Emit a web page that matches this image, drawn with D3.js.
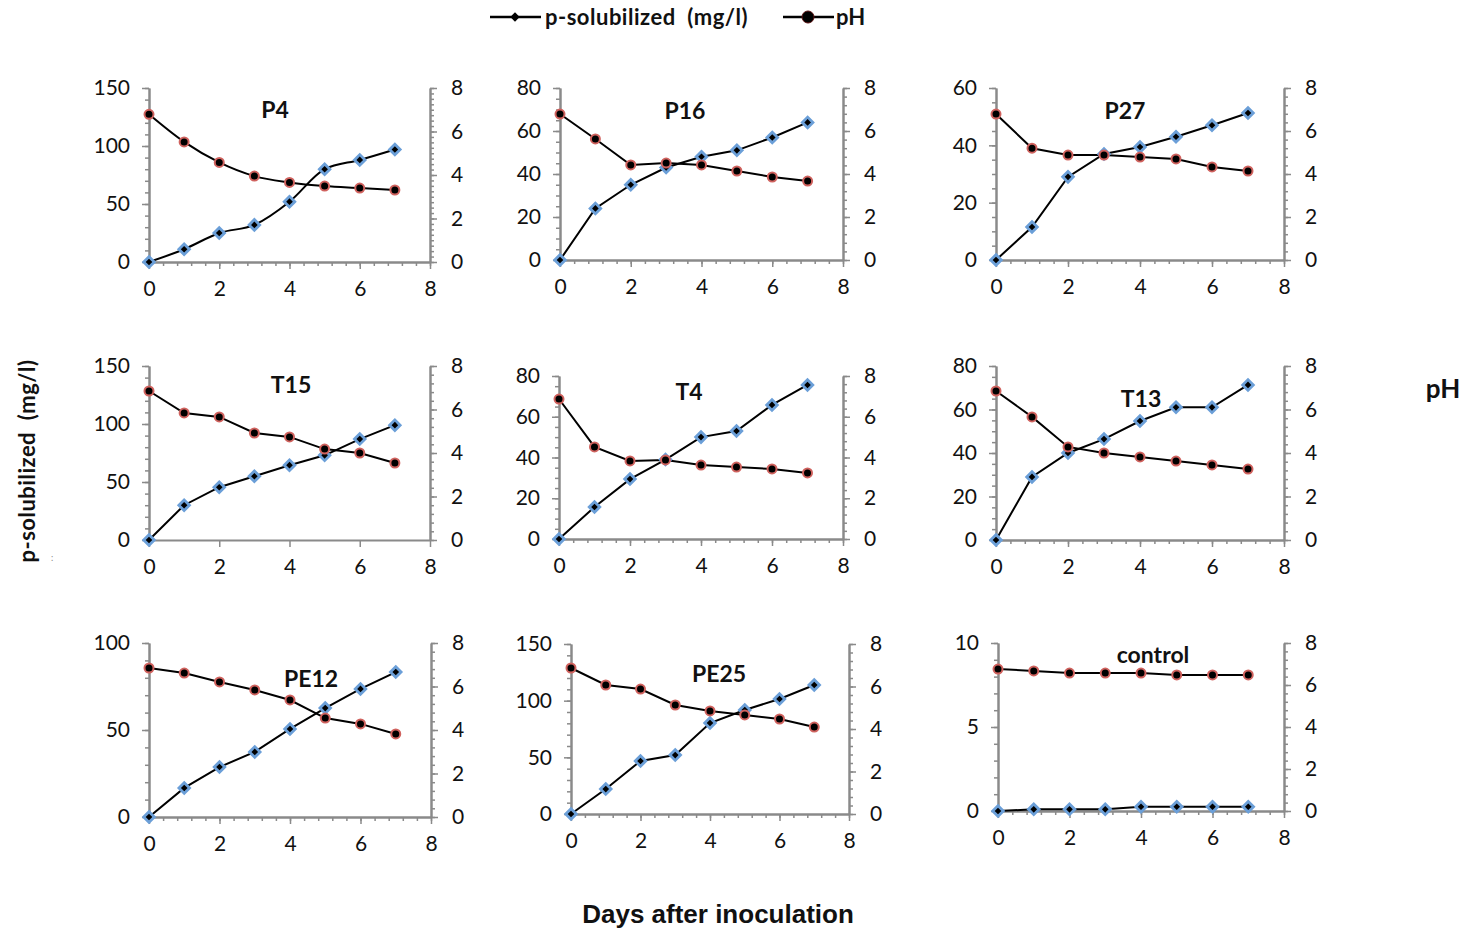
<!DOCTYPE html>
<html>
<head>
<meta charset="utf-8">
<script src="https://cdn.jsdelivr.net/npm/d3@7.9.0/dist/d3.min.js"></script>
<style>
  body { margin: 0; background: #fff; }
  svg text { font-family: Lato, "Noto Sans", sans-serif; fill: #111; }
</style>
</head>
<body>
<svg id="chart"></svg>
<script>
// data
const days = [0, 1, 2, 3, 4, 5, 6, 7];
const panelNames = ["P4", "P16", "P27", "T15", "T4", "T13", "PE12", "PE25", "control"];

const psolP4 = [0, 11, 25, 32, 52, 80, 88, 97];
const psolP16 = [0, 24, 35, 43, 48, 51, 57, 64];
const psolP27 = [0, 11.5, 29, 37, 39.4, 43, 47, 51.3];
const psolT15 = [0, 30, 45.5, 55, 64.5, 73, 87, 99];
const psolT4 = [0, 15.7, 29.4, 39, 50, 53, 65.8, 75.6];
const psolT13 = [0, 29, 40, 46.4, 54.7, 61, 61, 71.3];
const psolPE12 = [0, 16.7, 28.7, 37.4, 50.6, 62.6, 73.6, 83.3];
const psolPE25 = [0, 22, 46.8, 52, 80.3, 91.8, 101.5, 113.8];
const psolControl = [0, 0.1, 0.1, 0.1, 0.25, 0.25, 0.25, 0.25];

const phP4 = [6.79, 5.52, 4.58, 3.95, 3.66, 3.49, 3.40, 3.31];
const phP16 = [6.79, 5.63, 4.42, 4.51, 4.42, 4.14, 3.86, 3.67];
const phP27 = [6.79, 5.2, 4.88, 4.88, 4.79, 4.7, 4.33, 4.14];
const phT15 = [6.85, 5.84, 5.66, 4.92, 4.74, 4.18, 4.0, 3.54];
const phT4 = [6.87, 4.52, 3.83, 3.88, 3.63, 3.53, 3.44, 3.24];
const phT13 = [6.85, 5.66, 4.28, 4.0, 3.82, 3.63, 3.45, 3.26];
const phPE12 = [6.85, 6.62, 6.21, 5.84, 5.38, 4.55, 4.28, 3.82];
const phPE25 = [6.87, 6.07, 5.88, 5.13, 4.85, 4.66, 4.47, 4.09];
const phControl = [6.76, 6.67, 6.57, 6.57, 6.57, 6.48, 6.48, 6.48];

const psolSeries = [psolP4, psolP16, psolP27, psolT15, psolT4, psolT13, psolPE12, psolPE25, psolControl];
const phSeries = [phP4, phP16, phP27, phT15, phT4, phT13, phPE12, phPE25, phControl];

const psolMax = [150, 80, 60, 150, 80, 80, 100, 150, 10];
const psolStep = [50, 20, 20, 50, 20, 20, 50, 50, 5];
const psolMinor = [10, 5, 5, 10, 5, 5, 10, 10, 1];
const phMax = 8, phStep = 2;
const dayMax = 8, dayStep = 2;

// layout of each plot frame (left, right, top, bottom) and title offset
const frames = [
  { l: 149, r: 430, t: 88, b: 262, tx: 126, ty: 22, smooth: true },
  { l: 560, r: 843, t: 88, b: 260, tx: 125, ty: 23 },
  { l: 996, r: 1284, t: 88, b: 260, tx: 129, ty: 23 },
  { l: 149, r: 430, t: 366, b: 540, tx: 142, ty: 19, noMinorX: true },
  { l: 559, r: 843, t: 376, b: 539, tx: 130, ty: 16 },
  { l: 996, r: 1284, t: 366, b: 540, tx: 145, ty: 33 },
  { l: 149, r: 431, t: 643, b: 817, tx: 162, ty: 36 },
  { l: 571, r: 849, t: 644, b: 814, tx: 148, ty: 30 },
  { l: 998, r: 1284, t: 643, b: 811, tx: 155, ty: 12 }
];

const W = 1472, H = 931;
const axisColor = "#8a8a8a";
const svg = d3.select("#chart").attr("width", W).attr("height", H);

function styleAxis(sel) {
  sel.select(".domain").attr("stroke", axisColor).attr("stroke-width", 2);
  sel.selectAll(".tick line").attr("stroke", axisColor).attr("stroke-width", 1.5);
  sel.selectAll(".tick text").attr("font-size", 21).attr("fill", "#111")
    .style("font-family", "Lato, sans-serif");
}

function drawPanel(i) {
  const f = frames[i];
  const w = f.r - f.l, h = f.b - f.t;
  const g = svg.append("g").attr("transform", `translate(${f.l},${f.t})`);

  const x = d3.scaleLinear().domain([0, dayMax]).range([0, w]);
  const y = d3.scaleLinear().domain([0, psolMax[i]]).range([h, 0]);
  const y2 = d3.scaleLinear().domain([0, phMax]).range([h, 0]);

  // minor ticks
  if (!f.noMinorX) {
    g.append("g").attr("transform", `translate(0,${h})`)
      .call(d3.axisBottom(x).tickValues(d3.range(0, dayMax + 0.01, 0.4)).tickSize(4).tickSizeOuter(0).tickFormat(""))
      .call(styleAxis);
  }
  g.append("g")
    .call(d3.axisLeft(y).tickValues(d3.range(0, psolMax[i] + 0.01, psolMinor[i])).tickSize(4).tickSizeOuter(0).tickFormat(""))
    .call(styleAxis);
  g.append("g").attr("transform", `translate(${w},0)`)
    .call(d3.axisRight(y2).tickValues(d3.range(0, phMax + 0.01, i === 0 ? 0.25 : 0.4)).tickSize(4).tickSizeOuter(0).tickFormat(""))
    .call(styleAxis);

  // major ticks and labels
  g.append("g").attr("transform", `translate(0,${h})`)
    .call(d3.axisBottom(x).tickValues(d3.range(0, dayMax + 0.01, dayStep)).tickSize(7).tickSizeOuter(0).tickPadding(12))
    .call(styleAxis);
  g.append("g")
    .call(d3.axisLeft(y).tickValues(d3.range(0, psolMax[i] + 0.01, psolStep[i])).tickSize(7).tickSizeOuter(0).tickPadding(12))
    .call(styleAxis);
  g.append("g").attr("transform", `translate(${w},0)`)
    .call(d3.axisRight(y2).tickValues(d3.range(0, phMax + 0.01, phStep)).tickSize(7).tickSizeOuter(0).tickPadding(14))
    .call(styleAxis);

  const curve = f.smooth ? d3.curveMonotoneX : d3.curveLinear;
  const psolLine = d3.line().x((d, k) => x(days[k])).y(d => y(d)).curve(curve);
  const phLine = d3.line().x((d, k) => x(days[k])).y(d => y2(d)).curve(curve);

  g.append("path").datum(psolSeries[i])
    .attr("fill", "none").attr("stroke", "#000").attr("stroke-width", 2).attr("d", psolLine);
  g.append("path").datum(phSeries[i])
    .attr("fill", "none").attr("stroke", "#000").attr("stroke-width", 2).attr("d", phLine);

  const diamond = d3.symbol(d3.symbolSquare, 56);
  g.selectAll(".psol").data(psolSeries[i]).join("path")
    .attr("class", "psol")
    .attr("d", diamond)
    .attr("transform", (d, k) => `translate(${x(days[k])},${y(d)}) rotate(45)`)
    .attr("fill", "#000").attr("stroke", "#6b9fd8").attr("stroke-width", 2.8);

  g.selectAll(".ph").data(phSeries[i]).join("circle")
    .attr("class", "ph")
    .attr("cx", (d, k) => x(days[k])).attr("cy", d => y2(d)).attr("r", 4.5)
    .attr("fill", "#000").attr("stroke", "#d0625e").attr("stroke-width", 2);

  g.append("text")
    .attr("x", f.tx).attr("y", f.ty).attr("dy", "0.35em")
    .attr("text-anchor", "middle").attr("font-size", 23).attr("font-weight", "bold")
    .text(panelNames[i]);
}

panelNames.forEach((n, i) => drawPanel(i));

// legend
const lg = svg.append("g");
lg.append("line").attr("x1", 490).attr("x2", 541).attr("y1", 17).attr("y2", 17)
  .attr("stroke", "#000").attr("stroke-width", 2.5);
lg.append("path").attr("d", d3.symbol(d3.symbolSquare, 44))
  .attr("transform", "translate(515,17) rotate(45)").attr("fill", "#000");
lg.append("text").attr("x", 545).attr("y", 17).attr("dy", "0.35em")
  .attr("font-size", 22).attr("font-weight", "bold").attr("letter-spacing", 0.5)
  .attr("xml:space", "preserve")
  .text("p-solubilized  (mg/l)");
lg.append("line").attr("x1", 783).attr("x2", 834).attr("y1", 17).attr("y2", 17)
  .attr("stroke", "#000").attr("stroke-width", 2.5);
lg.append("circle").attr("cx", 808).attr("cy", 17).attr("r", 6)
  .attr("fill", "#000").attr("stroke", "#5a1010").attr("stroke-width", 1);
lg.append("text").attr("x", 836).attr("y", 17).attr("dy", "0.35em")
  .attr("font-size", 22).attr("font-weight", "bold").text("pH");

// axis titles
svg.append("text")
  .attr("transform", "translate(27,461) rotate(-90)")
  .attr("text-anchor", "middle").attr("dy", "0.35em")
  .attr("font-size", 22).attr("font-weight", "bold").attr("letter-spacing", 0.5)
  .attr("xml:space", "preserve")
  .text("p-solubilized  (mg/l)");
svg.append("text").attr("x", 52).attr("y", 558).attr("dy", "0.35em")
  .attr("text-anchor", "middle").attr("font-size", 9).style("fill", "#888").text(":");
svg.append("text").attr("x", 1443).attr("y", 389).attr("dy", "0.35em")
  .attr("text-anchor", "middle").attr("font-size", 26).attr("font-weight", "bold").text("pH");
svg.append("text").attr("x", 718).attr("y", 914).attr("dy", "0.35em")
  .attr("text-anchor", "middle").attr("font-size", 26).attr("font-weight", "bold")
  .style("font-family", "'Liberation Sans', Arial, sans-serif")
  .text("Days after inoculation");
</script>
</body>
</html>
